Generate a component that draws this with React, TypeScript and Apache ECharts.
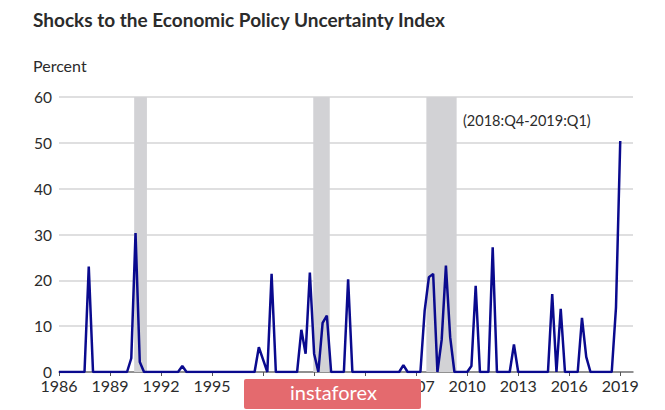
import React, { useRef, useEffect } from 'react';
import * as echarts from 'echarts';

// quarterly shocks, 1986:Q1 .. 2019:Q1 (percent)
const startYear = 1986;
const shocks: number[] = [
  0, 0, 0, 0, 0, 0, 0, 23, 0, 0, // 1986Q1 - 1988Q2
  0, 0, 0, 0, 0, 0, 0, 3, 30.3, 2.2, // 1988Q3 - 1990Q4
  0, 0, 0, 0, 0, 0, 0, 0, 0, 1.3, // 1991Q1 - 1993Q2
  0, 0, 0, 0, 0, 0, 0, 0, 0, 0, // 1993Q3 - 1995Q4
  0, 0, 0, 0, 0, 0, 0, 5.4, 2.7, 0, // 1996Q1 - 1998Q2
  21.4, 0, 0, 0, 0, 0, 0, 9.2, 4, 21.7, // 1998Q3 - 2000Q4
  4, 0, 10.7, 12.3, 0, 0, 0, 0, 20.2, 0, // 2001Q1 - 2003Q2
  0, 0, 0, 0, 0, 0, 0, 0, 0, 0, // 2003Q3 - 2005Q4
  0, 1.5, 0, 0, 0, 0, 13.4, 20.7, 21.4, 0, // 2006Q1 - 2008Q2
  7, 23.2, 7.6, 0, 0, 0, 0, 1.3, 18.8, 0, // 2008Q3 - 2010Q4
  0, 0, 27.2, 0, 0, 0, 0, 6, 0, 0, // 2011Q1 - 2013Q2
  0, 0, 0, 0, 0, 0, 17, 0, 13.8, 0, // 2013Q3 - 2015Q4
  0, 0, 0, 11.8, 3.3, 0, 0, 0, 0, 0, // 2016Q1 - 2018Q2
  0, 14.1, 50.4, // 2018Q3 - 2019Q1
];

// recession periods (decimal years)
const recessions: [number, number][] = [
  [1990.42, 1991.17],
  [2000.95, 2001.92],
  [2007.6, 2009.38],
];

const yearTicks = [1986, 1989, 1992, 1995, 1998, 2001, 2004, 2007, 2010, 2013, 2016, 2019];
const yTicks = [0, 10, 20, 30, 40, 50, 60];

const FONT = 'Lato, "Open Sans", sans-serif';
const TEXT = '#2b2b2b';

export default function App() {
  const chartRef = useRef<HTMLDivElement>(null);

  useEffect(() => {
    if (!chartRef.current) return;
    const chart = echarts.init(chartRef.current, undefined, { renderer: 'svg' });

    const option: echarts.EChartsOption = {
      animation: false,
      backgroundColor: '#ffffff',
      textStyle: { fontFamily: FONT },
      grid: { left: 59, right: 32, top: 97, bottom: 38 },
      xAxis: {
        type: 'value',
        min: startYear,
        max: 2019.75,
        interval: 3,
        axisLine: { show: true, lineStyle: { color: '#777', width: 1.5 } },
        axisTick: {
          show: true,
          customValues: yearTicks,
          length: 4,
          lineStyle: { color: '#555', width: 1 },
        },
        axisLabel: {
          customValues: yearTicks,
          formatter: (v: number) => String(v),
          color: TEXT,
          fontSize: 16,
          fontFamily: FONT,
          margin: 5,
        },
        splitLine: { show: false },
      },
      yAxis: {
        type: 'value',
        min: yTicks[0],
        max: yTicks[yTicks.length - 1],
        interval: 10,
        axisLine: { show: false },
        axisTick: { show: false },
        axisLabel: { color: TEXT, fontSize: 15.5, fontFamily: FONT, margin: 7 },
        splitLine: { lineStyle: { color: '#d4d4d6', width: 1.5 } },
      },
      series: [
        {
          type: 'line',
          data: shocks.map((v, i) => [startYear + i / 4, v]),
          symbol: 'none',
          lineStyle: { color: '#0a0a8e', width: 2.5 },
          z: 3,
          markArea: {
            silent: true,
            itemStyle: { color: '#d2d2d5' },
            data: recessions.map(([a, b]) => [{ xAxis: a }, { xAxis: b }]) as any,
          },
        },
      ],
      graphic: [
        {
          type: 'text',
          left: 33,
          top: 10,
          style: {
            text: 'Shocks to the Economic Policy Uncertainty Index',
            fontSize: 19,
            fontWeight: 'bold',
            fontFamily: FONT,
            fill: TEXT,
          },
        },
        {
          type: 'text',
          left: 33,
          top: 57,
          style: { text: 'Percent', fontSize: 16, fontFamily: FONT, fill: TEXT },
        },
        {
          type: 'text',
          left: 463,
          top: 113,
          style: { text: '(2018:Q4-2019:Q1)', fontSize: 14.5, fontFamily: FONT, fill: TEXT },
        },
        // watermark
        {
          type: 'rect',
          left: 244,
          top: 379,
          z: 100,
          zlevel: 1,
          shape: { width: 177, height: 30, r: 2 },
          style: { fill: '#e46a6e' },
        },
        {
          type: 'text',
          left: 290,
          top: 382,
          z: 101,
          zlevel: 1,
          style: {
            text: 'instaforex',
            fontSize: 20,
            fontFamily: FONT,
            fill: '#ffffff',
          },
        },
      ],
    };

    chart.setOption(option);
    return () => chart.dispose();
  }, []);

  return (
    <div
      ref={chartRef}
      style={{ position: 'fixed', left: 0, top: 0, width: 665, height: 410 }}
    />
  );
}
